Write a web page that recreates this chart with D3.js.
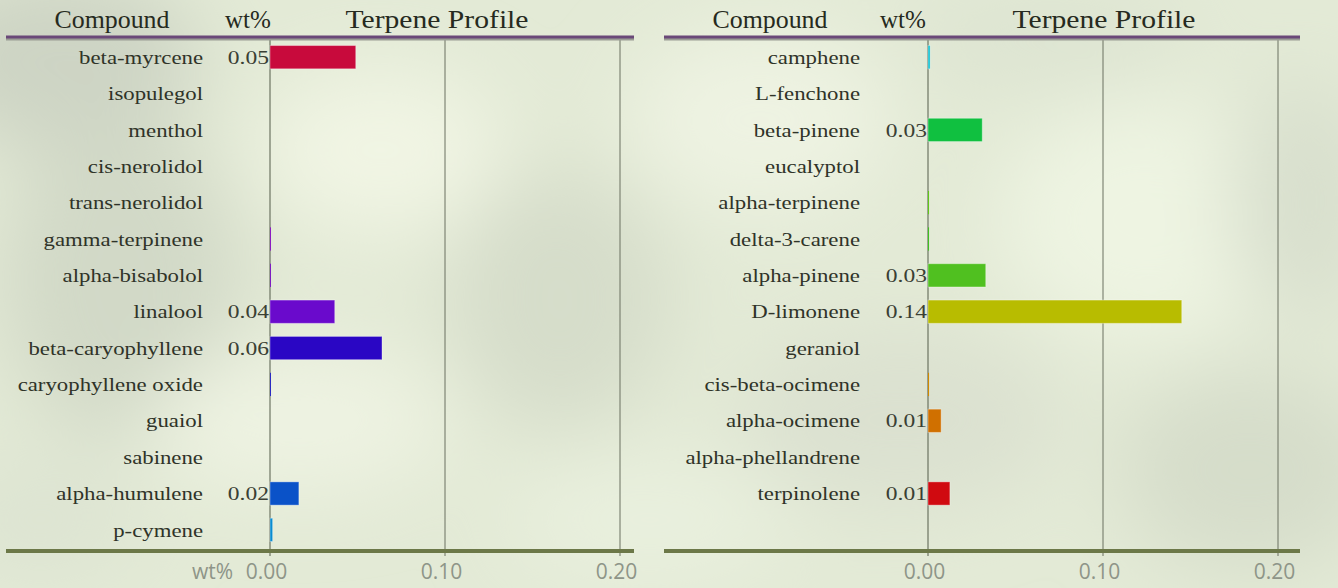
<!DOCTYPE html>
<html>
<head>
<meta charset="utf-8">
<script src="https://cdn.jsdelivr.net/npm/d3@7"></script>
<style>
  body { margin: 0; background: #e4ebd8; }
  svg { display: block; }
</style>
</head>
<body>
<svg></svg>
<script>
var w = 1338;
var h = 588;

// left panel
var leftNames = ["beta-myrcene", "isopulegol", "menthol", "cis-nerolidol", "trans-nerolidol",
  "gamma-terpinene", "alpha-bisabolol", "linalool", "beta-caryophyllene", "caryophyllene oxide",
  "guaiol", "sabinene", "alpha-humulene", "p-cymene"];
var leftValues = [0.049, 0, 0, 0, 0, 0.0005, 0.0005, 0.037, 0.064, 0.0005, 0, 0, 0.0165, 0.0015];
var leftColors = ["#c80a3c", "#c80a8c", "#c00aa8", "#b00ac0", "#9a0ac8", "#8a0ac8", "#780ac8",
  "#6a0acc", "#2a06c4", "#1a1ac8", "#1030c8", "#0a44c8", "#0a52c8", "#0a8cd0"];

// right panel
var rightNames = ["camphene", "L-fenchone", "beta-pinene", "eucalyptol", "alpha-terpinene",
  "delta-3-carene", "alpha-pinene", "D-limonene", "geraniol", "cis-beta-ocimene",
  "alpha-ocimene", "alpha-phellandrene", "terpinolene"];
var rightValues = [0.0012, 0, 0.031, 0, 0.0006, 0.0006, 0.033, 0.145, 0, 0.0006, 0.0075, 0, 0.0125];
var rightColors = ["#10c0d0", "#10c0a0", "#10c040", "#20c030", "#60c818", "#40c020", "#50c020",
  "#b8bc00", "#c8a000", "#d08a00", "#d07000", "#d03a00", "#d00a10"];

var ticks = [0, 0.1, 0.2];
var headers = ["Compound", "wt%", "Terpene Profile"];
var headerWidths = [115, 46, 183];

var svg = d3.select("svg").attr("width", w).attr("height", h);

// blurry backdrop
var defs = svg.append("defs");
defs.append("filter").attr("id", "blur")
  .attr("x", "-50%").attr("y", "-50%").attr("width", "200%").attr("height", "200%")
  .append("feGaussianBlur").attr("stdDeviation", 40);

svg.append("rect").attr("width", w).attr("height", h).attr("fill", "#e3ead6");
var blobs = [
  [60, 60, 140, 90, "#cdd4c4"], [120, 280, 120, 160, "#d2d9c7"], [380, 150, 120, 80, "#f1f5e4"],
  [560, 300, 110, 130, "#d6ddca"], [300, 420, 150, 70, "#eef3e2"], [760, 120, 130, 90, "#eef3e2"],
  [900, 420, 160, 90, "#dbe1d0"], [1150, 220, 150, 120, "#eef4e2"], [1250, 470, 130, 100, "#d6ddca"],
  [1050, 40, 140, 50, "#dde4d1"], [650, 520, 140, 60, "#e9f0de"], [40, 520, 100, 60, "#dde4d2"],
  [1300, 200, 70, 120, "#d8dfcd"]
];
svg.append("g").attr("filter", "url(#blur)")
  .selectAll("ellipse").data(blobs).enter().append("ellipse")
  .attr("cx", (d) => d[0]).attr("cy", (d) => d[1])
  .attr("rx", (d) => d[2]).attr("ry", (d) => d[3])
  .attr("fill", (d) => d[4]);

function panel(names, values, colors, x0, x1, lineL, lineR, labelX, headX, showWt) {
  var g = svg.append("g");
  var x = d3.scaleLinear().domain([0, 0.2]).range([x0, x1]);
  var step = 36.36;
  var y = d3.scaleBand().domain(names)
    .range([39, 39 + step * names.length])
    .paddingInner(0.36).paddingOuter(0.18);

  // gridlines
  g.selectAll("line.grid").data(ticks).enter().append("line")
    .attr("class", "grid")
    .attr("x1", (d) => x(d)).attr("x2", (d) => x(d))
    .attr("y1", 38).attr("y2", 556)
    .attr("stroke", (d) => d === 0 ? "#555d4a" : "#6a7160")
    .attr("stroke-width", 1);

  // bars
  var data = names.map((n, i) => ({ name: n, value: values[i], color: colors[i] }));
  g.selectAll("rect.bar").data(data).enter().append("rect")
    .attr("class", "bar")
    .attr("x", x(0))
    .attr("y", (d) => y(d.name))
    .attr("width", (d) => x(d.value) - x(0))
    .attr("height", y.bandwidth())
    .attr("fill", (d) => d.color)
    .attr("stroke", (d) => d.value > 0.001 ? "rgba(255,255,255,0.35)" : "none")
    .attr("stroke-width", 1);

  // compound names (font in the picture is wide, so stretch it)
  g.selectAll("text.name").data(data).enter().append("text")
    .attr("class", "name")
    .attr("transform", (d) => "translate(" + labelX + "," + (y(d.name) + y.bandwidth() / 2) + ") scale(1.2,1)")
    .attr("dy", "0.35em")
    .attr("text-anchor", "end")
    .attr("font-family", "Liberation Serif")
    .attr("font-size", 19)
    .attr("fill", "#2f3328")
    .text((d) => d.name);

  // value labels
  g.selectAll("text.val").data(data.filter((d) => d.value >= 0.005)).enter().append("text")
    .attr("class", "val")
    .attr("transform", (d) => "translate(" + (x(0) - 1) + "," + (y(d.name) + y.bandwidth() / 2) + ") scale(1.24,1)")
    .attr("dy", "0.35em")
    .attr("text-anchor", "end")
    .attr("font-family", "Liberation Serif")
    .attr("font-size", 19)
    .attr("fill", "#3a3f34")
    .text((d) => d3.format(".2f")(d.value));

  // header
  g.selectAll("text.head").data(headers).enter().append("text")
    .attr("class", "head")
    .attr("x", (d, i) => headX[i])
    .attr("y", 28)
    .attr("text-anchor", "middle")
    .attr("font-family", "Liberation Serif")
    .attr("font-size", 25)
    .attr("textLength", (d, i) => headerWidths[i])
    .attr("lengthAdjust", "spacingAndGlyphs")
    .attr("fill", "#262a20")
    .text((d) => d);

  g.append("line").attr("x1", lineL).attr("x2", lineR).attr("y1", 39).attr("y2", 39)
    .attr("stroke", "#9a9c94").attr("stroke-width", 3);
  g.append("line").attr("x1", lineL).attr("x2", lineR).attr("y1", 37).attr("y2", 37)
    .attr("stroke", "#6a4878").attr("stroke-width", 3);

  g.append("line").attr("x1", lineL).attr("x2", lineR).attr("y1", 551).attr("y2", 551)
    .attr("stroke", "#6c7848").attr("stroke-width", 4);

  // axis
  var axis = d3.axisBottom(x).tickValues(ticks).tickFormat(d3.format(".2f")).tickSize(0).tickPadding(0);
  var ax = g.append("g").attr("transform", "translate(-4,564)").call(axis);
  ax.select(".domain").remove();
  ax.selectAll("text")
    .attr("font-family", "Open Sans")
    .attr("font-size", 21)
    .attr("fill", "#8e9588");

  if (showWt) {
    g.append("text").attr("x", x(0) - 37).attr("y", 579)
      .attr("text-anchor", "end")
      .attr("font-family", "Open Sans").attr("font-size", 21)
      .attr("fill", "#8e9588").text("wt%");
  }
}

panel(leftNames, leftValues, leftColors, 270, 620, 6, 634, 203, [112, 248, 437], true);
panel(rightNames, rightValues, rightColors, 928, 1278, 664, 1300, 860, [770, 903, 1104], false);
</script>
</body>
</html>
